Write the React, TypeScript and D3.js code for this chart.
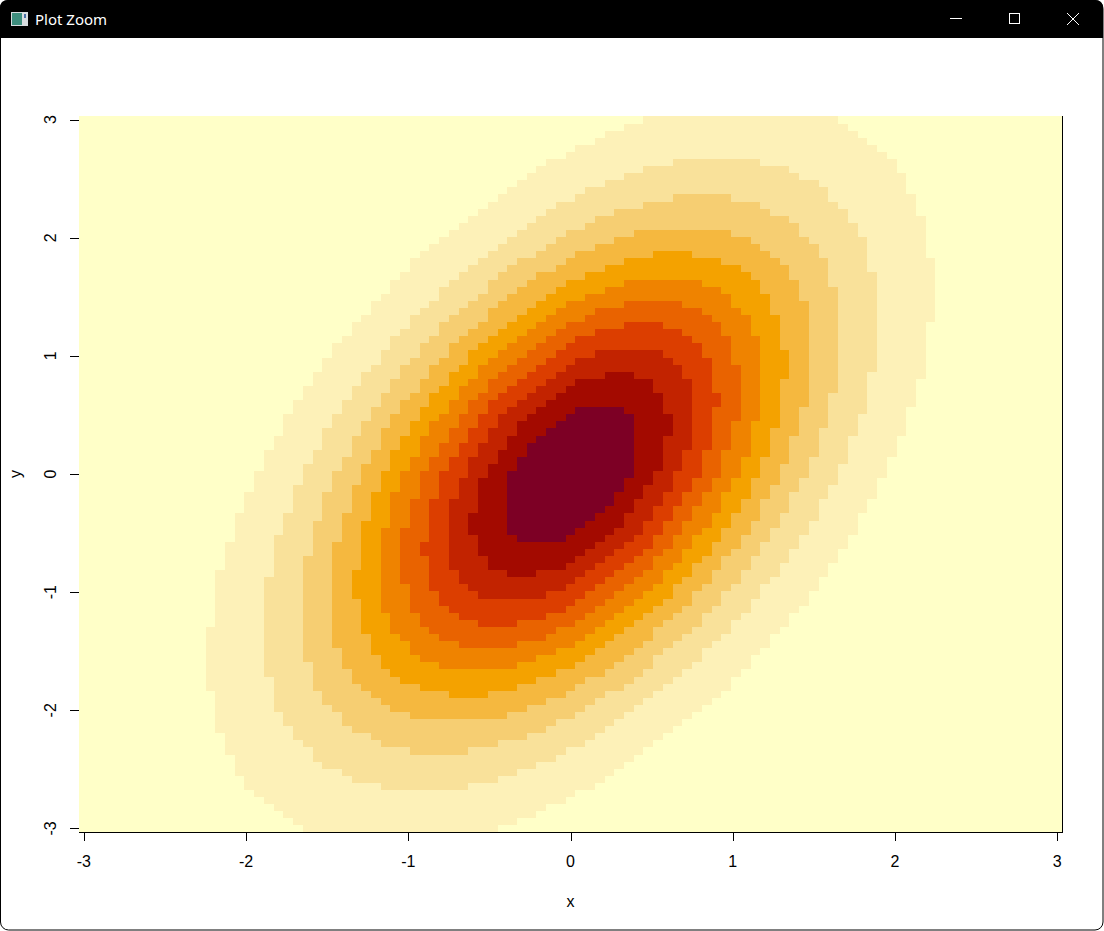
import React from "react";
import * as d3 from "d3";

// grid definition (x = y = seq(-3, 3, length = 101))
const gridRange = [-3, 3];
const gridCount = 101;
// bivariate normal: mean and covariance [sxx, sxy, syx, syy]
const meanXY = [0, 0];
const covariance = [1, 0.7, 0.7, 2];
// hcl.colors(12, "YlOrRd", rev = TRUE)
const palette = [
  "#FFFFC8", "#FDF1B8", "#F9E19A", "#F6CE72", "#F5B83F", "#F4A200",
  "#EF8300", "#E96300", "#DC3E00", "#C22300", "#A30A00", "#7D0025",
];
const xTicks = [-3, -2, -1, 0, 1, 2, 3];
const yTicks = [-3, -2, -1, 0, 1, 2, 3];
const xLabel = "x";
const yLabel = "y";
const windowTitle = "Plot Zoom";

const W = 1104;
const H = 931;
const FONT = "'Liberation Sans', Arial, sans-serif";

export default function App() {
  const grid = d3.range(gridCount).map(
    (i) => gridRange[0] + (i * (gridRange[1] - gridRange[0])) / (gridCount - 1)
  );
  const step = grid[1] - grid[0];
  const half = step / 2;

  const [sxx, sxy, , syy] = covariance;
  const det = sxx * syy - sxy * sxy;
  const dens = (x: number, y: number) => {
    const dx = x - meanXY[0];
    const dy = y - meanXY[1];
    const q = (syy * dx * dx - 2 * sxy * dx * dy + sxx * dy * dy) / det;
    return Math.exp(-q / 2) / (2 * Math.PI * Math.sqrt(det));
  };

  const cells: { x: number; y: number; z: number }[] = [];
  for (const x of grid) for (const y of grid) cells.push({ x, y, z: dens(x, y) });
  const [zmin, zmax] = d3.extent(cells, (c) => c.z) as [number, number];
  const nCol = palette.length;
  const breaks = d3.range(nCol + 1).map((i) => zmin + ((zmax - zmin) * i) / nCol);
  const colorOf = (z: number) => {
    let k = d3.bisectLeft(breaks, z) - 1;
    if (k < 0) k = 0;
    if (k > nCol - 1) k = nCol - 1;
    return palette[k];
  };

  const xScale = d3.scaleLinear().domain([gridRange[0] - half, gridRange[1] + half]).range([79, 1062]);
  const yScale = d3.scaleLinear().domain([gridRange[0] - half, gridRange[1] + half]).range([832, 116]);

  return (
    <svg
      width={W}
      height={H}
      style={{ position: "fixed", left: 0, top: 0, display: "block", background: "#fff" }}
    >
      {/* window frame */}
      <rect x={0.5} y={0.5} width={W - 1.5} height={H - 1.5} rx={8} fill="#fff" stroke="#000" strokeWidth={1} />
      <path d={`M0,8 Q0,0 8,0 L${W - 9},0 Q${W - 1},0 ${W - 1},8 L${W - 1},38 L0,38 Z`} fill="#000" />
      <g>
        <rect x={11} y={12} width={17} height={14} fill="#d8dde0" />
        <rect x={12} y={13} width={10} height={12} fill="#3e8e7e" />
        <rect x={24} y={14} width={2} height={4} fill="#4a6fa5" />
      </g>
      <text x={35} y={25} fill="#fff" fontSize={15} fontFamily="'Segoe UI', 'Noto Sans', 'Open Sans', sans-serif">
        {windowTitle}
      </text>
      <line x1={950} x2={962} y1={18.5} y2={18.5} stroke="#fff" strokeWidth={1} />
      <rect x={1009.5} y={13.5} width={10} height={10} fill="none" stroke="#fff" strokeWidth={1} />
      <line x1={1067} x2={1079} y1={13} y2={25} stroke="#fff" strokeWidth={1} />
      <line x1={1079} x2={1067} y1={13} y2={25} stroke="#fff" strokeWidth={1} />

      {/* image cells */}
      <g shapeRendering="crispEdges">
        {cells.map((c, i) => {
          const x0 = xScale(c.x - half);
          const x1 = xScale(c.x + half);
          const y0 = yScale(c.y + half);
          const y1 = yScale(c.y - half);
          return (
            <rect
              key={i}
              x={x0}
              y={y0}
              width={x1 - x0 + 0.5}
              height={y1 - y0 + 0.5}
              fill={colorOf(c.z)}
            />
          );
        })}
      </g>

      {/* partial box (bottom and right visible) */}
      <g shapeRendering="crispEdges" stroke="#000" strokeWidth={1}>
        <line x1={79} x2={1062.5} y1={832.5} y2={832.5} />
        <line x1={1062.5} x2={1062.5} y1={116} y2={832.5} />
      </g>

      {/* x axis */}
      <g fontFamily={FONT} fontSize={16} fill="#000">
        {xTicks.map((t) => (
          <g key={t}>
            <line x1={Math.round(xScale(t)) + 0.5} x2={Math.round(xScale(t)) + 0.5} y1={832} y2={841} stroke="#000" />
            <text x={xScale(t)} y={867} textAnchor="middle">{t}</text>
          </g>
        ))}
        <text x={(79 + 1062) / 2} y={907} textAnchor="middle">{xLabel}</text>
      </g>

      {/* y axis */}
      <g fontFamily={FONT} fontSize={16} fill="#000">
        {yTicks.map((t) => (
          <g key={t}>
            <line x1={70} x2={79} y1={Math.round(yScale(t)) + 0.5} y2={Math.round(yScale(t)) + 0.5} stroke="#000" />
            <text
              transform={`translate(${56},${yScale(t)}) rotate(-90)`}
              textAnchor="middle"
            >
              {t}
            </text>
          </g>
        ))}
        <text transform={`translate(21,${(116 + 832) / 2}) rotate(-90)`} textAnchor="middle">{yLabel}</text>
      </g>
    </svg>
  );
}
